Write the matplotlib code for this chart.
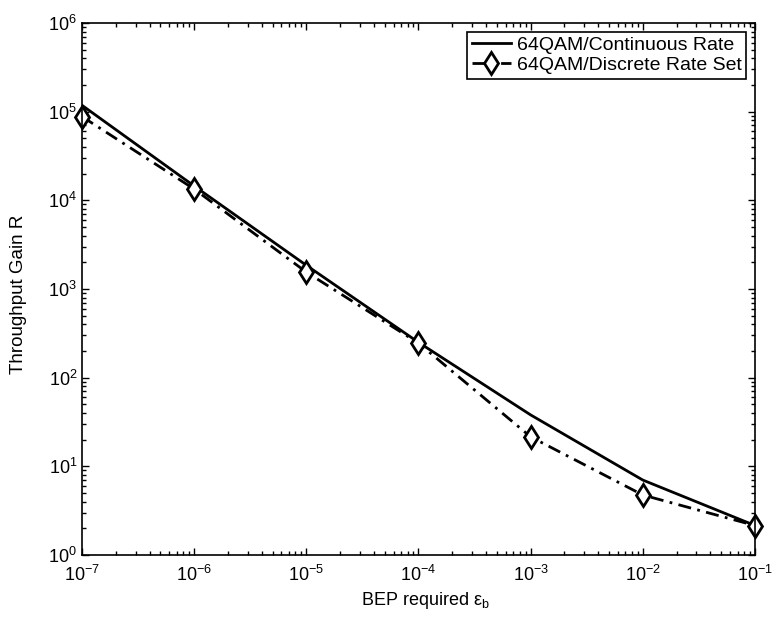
import numpy as np
import matplotlib
matplotlib.use("Agg")
import matplotlib.pyplot as plt
from matplotlib.ticker import LogLocator

plt.rcParams['font.family'] = ['Liberation Sans', 'DejaVu Sans']
plt.rcParams['mathtext.fontset'] = 'custom'
plt.rcParams['mathtext.rm'] = 'Liberation Sans'
plt.rcParams['mathtext.it'] = 'Liberation Sans'

# BEP required
bep = [1e-7, 1e-6, 1e-5, 1e-4, 1e-3, 1e-2, 1e-1]
# throughput gain
continuous = [1.18e5, 1.45e4, 1.85e3, 250, 38, 7.0, 2.15]
discrete = [8.8e4, 1.34e4, 1.55e3, 245, 21.5, 4.75, 2.15]

fig = plt.figure(figsize=(7.76, 6.23), dpi=100)
ax = fig.add_axes([82 / 776, 68 / 623, 673 / 776, 532 / 623])

ax.loglog(bep, continuous, '-', color='black', lw=2.0, label='64QAM/Continuous Rate')
ax.loglog(bep, discrete, '-.', color='black', lw=2.0, marker='d', ms=11.5,
          mfc='white', mew=2.0, dashes=(4.7, 2.3, 1, 2.3), clip_on=False,
          label='64QAM/Discrete Rate Set')

ax.set_xlim(1e-7, 1e-1)
ax.set_ylim(1e0, 1e6)
ax.xaxis.set_major_locator(LogLocator(base=10, numticks=10))
ax.yaxis.set_major_locator(LogLocator(base=10, numticks=10))
ax.xaxis.set_minor_locator(LogLocator(base=10, subs=np.arange(2, 10), numticks=20))
ax.yaxis.set_minor_locator(LogLocator(base=10, subs=np.arange(2, 10), numticks=20))
ax.tick_params(which='both', direction='in', top=True, right=True, labelsize=13, width=1)
ax.tick_params(which='major', length=5)
ax.tick_params(which='minor', length=2.8)
ax.tick_params(axis='x', which='major', pad=7)
for s in ax.spines.values():
    s.set_linewidth(1.2)

ax.set_xlabel(r'BEP required $\varepsilon_{\mathrm{b}}$', fontsize=13)
ax.xaxis.set_label_coords(0.51, -0.066)
ax.set_ylabel('Throughput Gain R', fontsize=13.5)
ax.yaxis.set_label_coords(-0.082, 0.49)

leg = ax.legend(loc='upper right', fontsize=14, frameon=True, fancybox=False,
                edgecolor='black', framealpha=1, borderaxespad=0.45,
                handlelength=2.0, handletextpad=0.3, borderpad=0.25, labelspacing=0.1)
leg.get_frame().set_linewidth(1.2)

fig.savefig('out.png', dpi=100)
